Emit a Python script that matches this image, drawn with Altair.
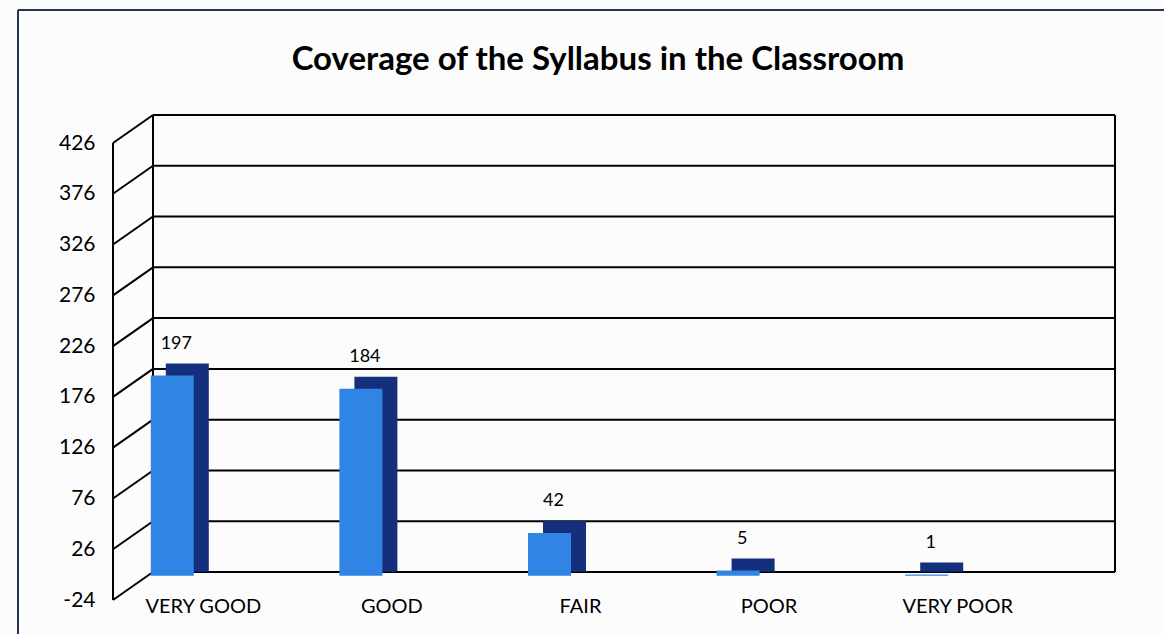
import altair as alt
import pandas as pd

title_text = "Coverage of the Syllabus in the Classroom"
categories = ["VERY GOOD", "GOOD", "FAIR", "POOR", "VERY POOR"]
counts = [197, 184, 42, 5, 1]
tick_values = [-24, 26, 76, 126, 176, 226, 276, 326, 376, 426]

bars_df = pd.DataFrame({"category": categories, "count": counts})
ticks_df = pd.DataFrame({"tick": tick_values})
one_df = pd.DataFrame({"k": [0]})

W, H = 943, 457
DX, DY = 40, -28
FONT = "Lato"

yscale = alt.Scale(domain=[-24, 426], nice=False, zero=False)
xscale = alt.Scale(domain=categories, paddingInner=0, paddingOuter=0)

x_axis = alt.Axis(title=None, labelAngle=0, labelFontSize=20, labelFont=FONT,
                  labelColor="black", domain=False, ticks=False, grid=False, labelPadding=-4)
y_axis = alt.Axis(values=tick_values, title=None, labelFontSize=21, labelFont=FONT,
                  labelColor="black", domain=False, ticks=False, grid=False, labelPadding=14,
                  labelExpr="'' + datum.value")


def xcat():
    return alt.X("category:N", scale=xscale, sort=categories, axis=x_axis)


def yq(field):
    return alt.Y(field, type="quantitative", scale=yscale, axis=y_axis)


def yd(v):
    return alt.YDatum(v, type="quantitative", scale=yscale, axis=y_axis)


grid = alt.Chart(ticks_df).mark_rule(color="black", strokeWidth=2, yOffset=DY).encode(
    y=yq("tick"), x=alt.value(4 + DX), x2=alt.value(1006))

diag = alt.Chart(ticks_df).mark_rule(color="black", strokeWidth=2, y2Offset=DY).encode(
    y=yq("tick"), y2=alt.Y2("tick"), x=alt.value(4), x2=alt.value(4 + DX))

front_edge = alt.Chart(one_df).mark_rule(color="black", strokeWidth=2).encode(
    x=alt.value(4), y=yd(-24), y2=alt.datum(426))
back_left = alt.Chart(one_df).mark_rule(color="black", strokeWidth=2, yOffset=DY, y2Offset=DY).encode(
    x=alt.value(4 + DX), y=yd(-24), y2=alt.datum(426))
back_right = alt.Chart(one_df).mark_rule(color="black", strokeWidth=2, yOffset=DY, y2Offset=DY).encode(
    x=alt.value(1006), y=yd(-24), y2=alt.datum(426))

shade = alt.Chart(bars_df).mark_bar(size=43, color="#14307c", xOffset=-16, yOffset=-12, y2Offset=-4).encode(
    x=xcat(), y=yq("count"), y2=alt.datum(0))

front = alt.Chart(bars_df).mark_bar(size=43, color="#2f84e4", xOffset=-31).encode(
    x=xcat(), y=yq("count"), y2=alt.datum(0))

labels = alt.Chart(bars_df).mark_text(dx=-27, dy=-32, fontSize=18, font=FONT, color="black",
                                      baseline="middle").encode(
    x=xcat(), y=yq("count"), text="count:Q")

frame_left = alt.Chart(one_df).mark_rule(color="#22324f", strokeWidth=2).encode(
    x=alt.value(-91), y=alt.value(-133), y2=alt.value(491))
frame_top = alt.Chart(one_df).mark_rule(color="#22324f", strokeWidth=2).encode(
    x=alt.value(-91), x2=alt.value(1055), y=alt.value(-133))

title = alt.Chart(one_df).mark_text(fontSize=33, font=FONT, fontWeight="bold", color="black",
                                    baseline="middle", align="center").encode(
    x=alt.value(489), y=alt.value(-83), text=alt.value(title_text))

chart = alt.layer(frame_left, frame_top, title, grid, diag, front_edge, back_left, back_right,
                  shade, front, labels).properties(
    width=W, height=H,
    autosize=alt.AutoSizeParams(type="none"),
    padding={"left": 109, "top": 143, "right": 112, "bottom": 34},
    background="#fcfcfc",
).configure_view(stroke=None)

chart.save("out.html", embed_options={"renderer": "svg", "actions": False})
